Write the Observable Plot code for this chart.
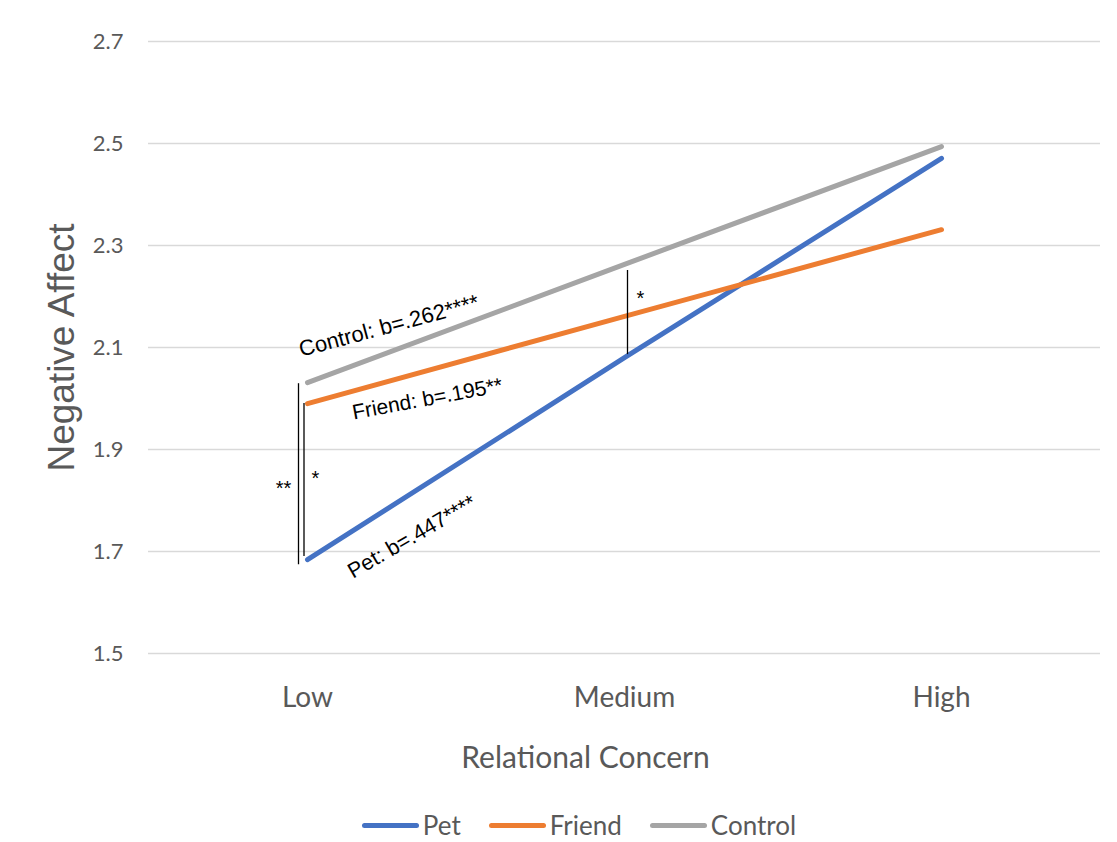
<!DOCTYPE html>
<html>
<head>
<meta charset="utf-8">
<script src="https://cdn.jsdelivr.net/npm/d3@7"></script>
<script src="https://cdn.jsdelivr.net/npm/@observablehq/plot@0.6"></script>
<style>
  html, body { margin: 0; padding: 0; background: #fff; }
  #chart svg { display: block; }
  .legend { width: 1117px; height: 50px; display: flex; justify-content: center; align-items: center;
            padding-left: 41px; box-sizing: border-box; font-family: Lato, sans-serif; font-size: 26px; color: #595959; }
  .legend .item { display: flex; align-items: center; margin: 0 14px; }
  .legend .sw { display: inline-block; width: 57px; height: 5px; border-radius: 3px; margin-right: 4px; }
</style>
</head>
<body>
<div id="chart"></div>
<div class="legend" id="legend"></div>
<script>
// ---- data ----
const categories = ["Low", "Medium", "High"];
const seriesNames = ["Pet", "Friend", "Control"];
const seriesColors = ["#4472C4", "#ED7D31", "#A5A5A5"];
const petValues = [1.684, 2.080, 2.471];
const friendValues = [1.990, 2.161, 2.331];
const controlValues = [2.031, 2.263, 2.494];
const yTicks = [1.5, 1.7, 1.9, 2.1, 2.3, 2.5, 2.7];
const slopeLabels = ["Control: b=.262****", "Friend: b=.195**", "Pet: b=.447****"];
const sigLabels = ["**", "*", "*"];
// annotation value spans (data units)
const lowDoubleStarSpan = [1.674, 2.029];
const lowStarSpan = [1.690, 1.990];
const mediumStarSpan = [2.086, 2.251];

const valuesBySeries = [petValues, friendValues, controlValues];
const rows = [];
seriesNames.forEach((s, i) => categories.forEach((c, j) => rows.push({series: s, cat: c, value: valuesBySeries[i][j]})));

const annoFont = "'Liberation Sans', Arial, sans-serif";

const chart = Plot.plot({
  width: 1117,
  height: 800,
  marginTop: 41,
  marginBottom: 147,
  marginLeft: 148,
  marginRight: 17,
  style: {fontFamily: "Lato, sans-serif", color: "#595959", background: "#fff"},
  x: {type: "point", domain: categories, padding: 0.5},
  y: {domain: [1.5, 2.7]},
  color: {domain: seriesNames, range: seriesColors},
  marks: [
    Plot.gridY(yTicks, {stroke: "#d9d9d9", strokeOpacity: 1, strokeWidth: 1.5}),
    Plot.axisY(yTicks, {tickSize: 0, tickPadding: 25, tickFormat: d3.format(".1f"), fontSize: 22, fill: "#595959", label: null}),
    Plot.axisX({tickSize: 0, tickPadding: 34, fontSize: 28, fill: "#595959", label: null}),
    Plot.text(["Negative Affect"], {frameAnchor: "left", rotate: -90, dx: -86, textAnchor: "middle", lineAnchor: "middle", fontSize: 37, fontFamily: annoFont, fill: "#595959"}),
    Plot.text(["Relational Concern"], {frameAnchor: "bottom", dx: -39, dy: 105, fontSize: 30, fill: "#595959", lineAnchor: "middle"}),
    Plot.line(rows, {x: "cat", y: "value", z: "series", stroke: "series", strokeWidth: 5, strokeLinecap: "round", strokeLinejoin: "round"}),
    // significance brackets
    Plot.ruleX([{x: "Low", y1: lowDoubleStarSpan[0], y2: lowDoubleStarSpan[1]}], {x: "x", y1: "y1", y2: "y2", dx: -9, stroke: "#000", strokeWidth: 1.3}),
    Plot.ruleX([{x: "Low", y1: lowStarSpan[0], y2: lowStarSpan[1]}], {x: "x", y1: "y1", y2: "y2", dx: -3.5, stroke: "#000", strokeWidth: 1.3}),
    Plot.ruleX([{x: "Medium", y1: mediumStarSpan[0], y2: mediumStarSpan[1]}], {x: "x", y1: "y1", y2: "y2", dx: 3, stroke: "#000", strokeWidth: 1.3}),
    Plot.text([{x: "Low", y: 1.823, t: sigLabels[0]}], {x: "x", y: "y", text: "t", dx: -24, fontSize: 20, fontFamily: annoFont, fill: "#000"}),
    Plot.text([{x: "Low", y: 1.843, t: sigLabels[1]}], {x: "x", y: "y", text: "t", dx: 8, fontSize: 20, fontFamily: annoFont, fill: "#000"}),
    Plot.text([{x: "Medium", y: 2.196, t: sigLabels[2]}], {x: "x", y: "y", text: "t", dx: 16, fontSize: 20, fontFamily: annoFont, fill: "#000"}),
    // slope labels
    Plot.text([{x: "Low", y: 2.095, t: slopeLabels[0]}], {x: "x", y: "y", text: "t", dx: -8, rotate: -15, textAnchor: "start", lineAnchor: "middle", fontSize: 22, fontFamily: annoFont, fill: "#000"}),
    Plot.text([{x: "Low", y: 1.972, t: slopeLabels[1]}], {x: "x", y: "y", text: "t", dx: 45, rotate: -10.5, textAnchor: "start", lineAnchor: "middle", fontSize: 21, fontFamily: annoFont, fill: "#000"}),
    Plot.text([{x: "Low", y: 1.658, t: slopeLabels[2]}], {x: "x", y: "y", text: "t", dx: 42, rotate: -30, textAnchor: "start", lineAnchor: "middle", fontSize: 21.5, fontFamily: annoFont, fill: "#000"})
  ]
});
document.getElementById("chart").appendChild(chart);

const legend = document.getElementById("legend");
seriesNames.forEach((s, i) => {
  const item = document.createElement("span");
  item.className = "item";
  const sw = document.createElement("span");
  sw.className = "sw";
  sw.style.background = seriesColors[i];
  item.appendChild(sw);
  item.appendChild(document.createTextNode(s));
  legend.appendChild(item);
});
</script>
</body>
</html>
